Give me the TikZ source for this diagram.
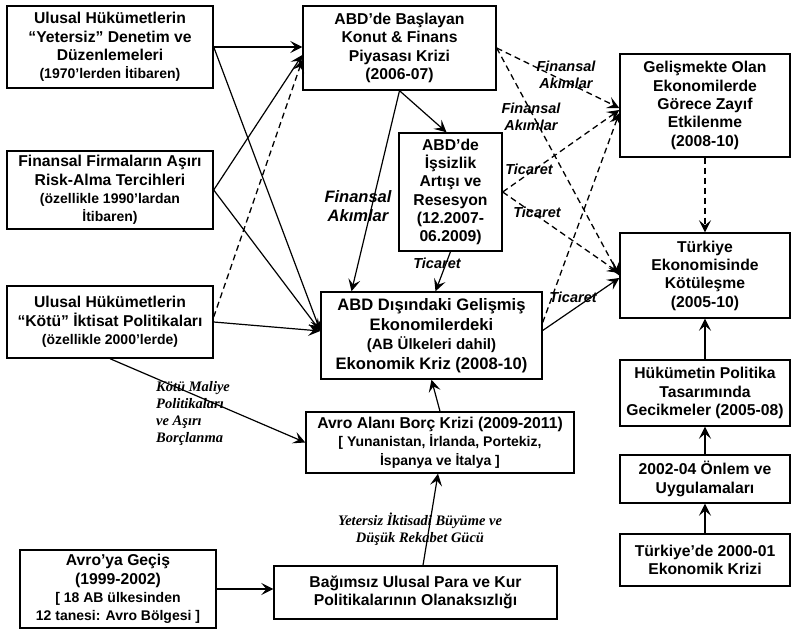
\documentclass[tikz,border=0pt]{standalone}
\usepackage{fontspec}
\setmainfont{Liberation Sans}
\newfontfamily\serf{Liberation Serif}
\usetikzlibrary{arrows.meta,calc}
\newcommand\mainf{\fontsize{15.7}{18.3}\selectfont\bfseries}
\newcommand\smallf{\fontsize{14}{17}\selectfont\bfseries}
\newcommand\bigf{\fontsize{16.6}{19.5}\selectfont\bfseries}
\newcommand\labf{\fontsize{14.5}{17}\selectfont\bfseries\itshape}
\newcommand\blabf{\fontsize{16.5}{18.5}\selectfont\bfseries\itshape}
\newcommand\slabf{\serf\fontsize{14.5}{16.7}\selectfont\bfseries\itshape}
\begin{document}
\begin{tikzpicture}[x=1pt,y=-1pt,
 box/.style={draw, line width=1.4pt, inner sep=0pt, align=center, font=\mainf},
 arr/.style={line width=1.2pt, -{Stealth[length=12pt,width=12pt,inset=5pt]}},
 darr/.style={arr, line width=1.3pt, dash pattern=on 6pt off 4pt},
 lab/.style={font=\labf, align=center, inner sep=0pt},
 blab/.style={font=\blabf, align=center, inner sep=0pt},
 slab/.style={font=\slabf, inner sep=0pt}]
\useasboundingbox (0,0) rectangle (793,631);

% left column
\node[box, minimum width=206pt, minimum height=82pt] (u1) at (110,47)
 {Ulusal Hükümetlerin\\“Yetersiz” Denetim ve\\Düzenlemeleri\\{\smallf(1970’lerden İtibaren)}};
\node[box, minimum width=206pt, minimum height=78pt] (ff) at (110,190)
 {Finansal Firmaların Aşırı\\Risk-Alma Tercihleri\\{\smallf(özellikle 1990’lardan}\\{\smallf İtibaren)}};
\node[box, minimum width=206pt, minimum height=72pt] (u2) at (110,322)
 {Ulusal Hükümetlerin\\“Kötü” İktisat Politikaları\\{\smallf(özellikle 2000’lerde)}};
\node[box, minimum width=196pt, minimum height=78pt] (avg) at (118,589)
 {Avro’ya Geçiş\\(1999-2002)\\{\smallf[ 18 AB ülkesinden}\\{\smallf 12 tanesi: Avro Bölgesi ]}};

% middle column
\node[box, minimum width=193pt, minimum height=84pt] (abd) at (399.5,48)
 {ABD’de Başlayan\\Konut \& Finans\\Piyasası Krizi\\(2006-07)};
\node[box, minimum width=103pt, minimum height=118pt] (iss) at (450.5,192)
 {ABD’de\\İşsizlik\\Artışı ve\\Resesyon\\(12.2007-\\06.2009)};
\node[box, minimum width=221pt, minimum height=87pt, font=\bigf] (dis) at (431.5,335.5)
 {ABD Dışındaki Gelişmiş\\Ekonomilerdeki\\{\fontsize{15}{18}\selectfont(AB Ülkeleri dahil)}\\Ekonomik Kriz (2008-10)};
\node[box, minimum width=268pt, minimum height=61pt] (avb) at (440,442.5)
 {Avro Alanı Borç Krizi (2009-2011)\\{\smallf[ Yunanistan, İrlanda, Portekiz,}\\{\smallf İspanya ve İtalya ]}};
\node[box, minimum width=283pt, minimum height=53pt] (bag) at (415.5,592.5)
 {Bağımsız Ulusal Para ve Kur\\Politikalarının Olanaksızlığı};

% right column
\node[box, minimum width=170pt, minimum height=103pt] (gel) at (705,105.5)
 {Gelişmekte Olan\\Ekonomilerde\\Görece Zayıf\\Etkilenme\\(2008-10)};
\node[box, minimum width=170pt, minimum height=85pt] (tur) at (705,275.5)
 {Türkiye\\Ekonomisinde\\Kötüleşme\\(2005-10)};
\node[box, minimum width=170pt, minimum height=66pt] (huk) at (705,393)
 {Hükümetin Politika\\Tasarımında\\Gecikmeler (2005-08)};
\node[box, minimum width=170pt, minimum height=48pt] (onl) at (705,479)
 {2002-04 Önlem ve\\Uygulamaları};
\node[box, minimum width=170pt, minimum height=52pt] (tk) at (705,560)
 {Türkiye’de 2000-01\\Ekonomik Krizi};

% connectors from the left column
\draw[arr] (u1.east) -- (u1.east -| abd.west);
\draw[arr] (u1.east) -- ([yshift=4.5pt]dis.west);
\draw[arr] (ff.east) -- ([yshift=-7pt]abd.west);
\draw[arr] (ff.east) -- ([yshift=4.5pt]dis.west);
\draw[darr] ([yshift=5pt]u2.east) -- ([yshift=-12pt]abd.west);
\draw[arr] (u2.east) -- ([yshift=4.5pt]dis.west);
\draw[arr] (u2.south) -- (avb.west);
\draw[arr] (avg.east) -- (avg.east -| bag.west);

% middle connectors
\draw[arr] (abd.south) -- ([xshift=-4pt]iss.north);
\draw[arr] (abd.south) -- ([xshift=-80pt]dis.north);
\draw[arr] (iss.south) -- ([xshift=4pt]dis.north);
\draw[arr] (avb.north) -- (dis.south);
\draw[arr] ([xshift=7.5pt]bag.north) -- ([xshift=-2pt]avb.south);

% to the right column
\draw[darr] (abd.east) -- ([yshift=-2.5pt]gel.west);
\draw[darr] (abd.east) -- (tur.west);
\draw[darr] (iss.east) -- ([yshift=-4.5pt]gel.west);
\draw[darr] (iss.east) -- ([yshift=2.5pt]tur.west);
\draw[darr] ([yshift=13pt]dis.east) -- ([yshift=-7.5pt]gel.west);
\draw[arr] ([yshift=5pt]dis.east) -- ([yshift=-2.5pt]tur.west);

% right column
\draw[darr] (gel.south) -- (tur.north);
\draw[arr] (huk.north) -- (tur.south);
\draw[arr] (onl.north) -- (huk.south);
\draw[arr] (tk.north) -- (onl.south);

% labels
\node[blab] (l1) at (358,206) {Finansal\\Akımlar};
\node[lab] (l2) at (566,74.5) {Finansal\\Akımlar};
\node[lab] (l3) at (531,116.5) {Finansal\\Akımlar};
\node[lab] (l4) at (529,169) {Ticaret};
\node[lab] (l5) at (537,212) {Ticaret};
\node[lab] (l6) at (573,297) {Ticaret};
\node[lab] (l7) at (437,263) {Ticaret};
\node[slab, anchor=west, align=left] (l8) at (156,413.5) {Kötü Maliye\\Politikaları\\ve Aşırı\\Borçlanma};
\node[slab, align=center] (l9) at (420,529) {Yetersiz İktisadi Büyüme ve\\Düşük Rekabet Gücü};
\end{tikzpicture}
\end{document}
